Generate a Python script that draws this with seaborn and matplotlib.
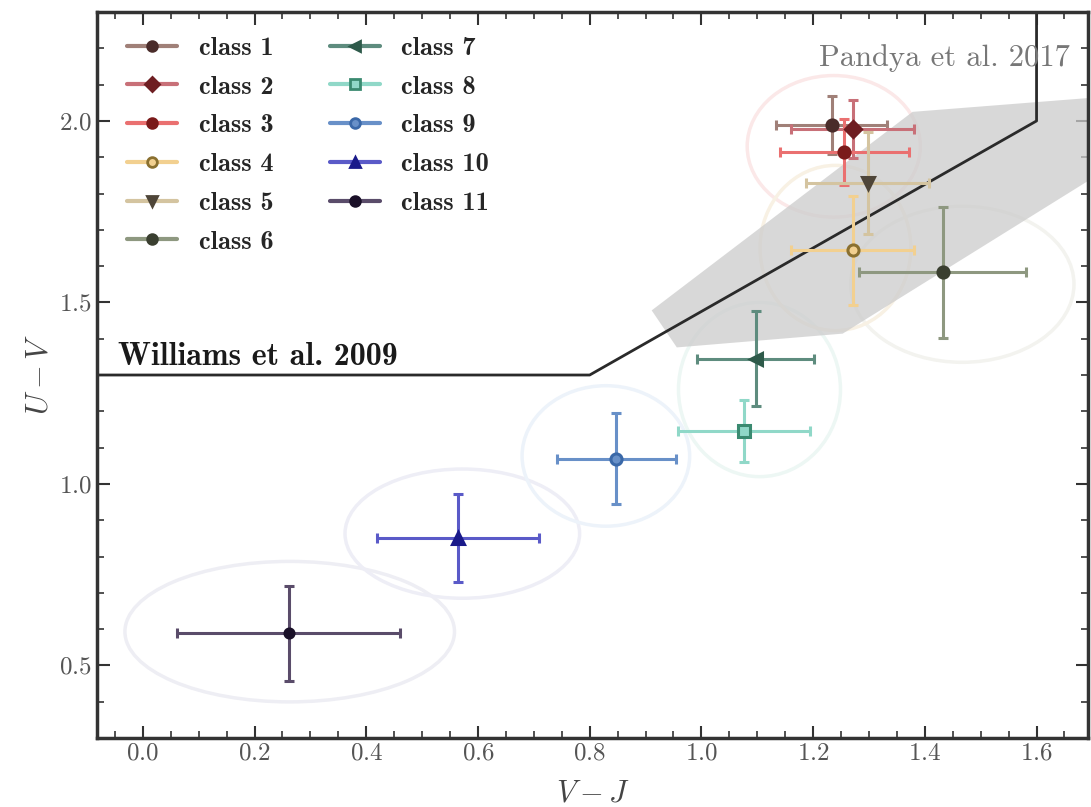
import numpy as np
import matplotlib
matplotlib.use("Agg")
import matplotlib.pyplot as plt
from matplotlib.patches import Ellipse, Polygon
from matplotlib.lines import Line2D
from matplotlib.ticker import MultipleLocator
import seaborn as sns

# ---------------- data ----------------
classes = ["class 1", "class 2", "class 3", "class 4", "class 5", "class 6",
           "class 7", "class 8", "class 9", "class 10", "class 11"]
vj = [1.233, 1.271, 1.256, 1.271, 1.298, 1.432, 1.097, 1.077, 0.848, 0.564, 0.261]
uv = [1.989, 1.978, 1.914, 1.644, 1.829, 1.583, 1.345, 1.146, 1.069, 0.851, 0.588]
vj_err = [0.10, 0.11, 0.115, 0.11, 0.11, 0.15, 0.105, 0.118, 0.107, 0.145, 0.20]
uv_err = [0.08, 0.08, 0.09, 0.15, 0.14, 0.18, 0.13, 0.085, 0.125, 0.12, 0.13]
markers = ["o", "D", "o", "o", "v", "o", "<", "s", "o", "^", "o"]
marker_colors = ["#4a2c2a", "#6e1e22", "#7a1a1a", "#8a7030", "#4e4538", "#3a3f30",
                 "#2e5a4a", "#3a8a70", "#3a68a8", "#1a1a8a", "#1a1028"]
bar_colors = ["#a08078", "#c87078", "#ea7070", "#f2d090", "#d4c4a0", "#8e9880",
              "#5e8c7e", "#90d8c8", "#6890c8", "#5a5ac8", "#5a4c6a"]

# Williams et al. 2009 quiescent boundary
will_x = [-0.2, 0.8, 1.6, 1.6]
will_y = [1.3, 1.3, 2.0, 2.4]

# Pandya et al. 2017 transition region
pand_x = [0.911, 1.378, 1.75, 1.75, 1.253, 0.956]
pand_y = [1.478, 2.025, 2.07, 1.89, 1.414, 1.376]

# faint group ellipses
ell_x = [0.263, 0.572, 0.829, 1.104, 1.237, 1.467, 1.24]
ell_y = [0.593, 0.863, 1.077, 1.26, 1.93, 1.55, 1.65]
ell_w = [0.59, 0.42, 0.30, 0.29, 0.31, 0.40, 0.27]
ell_h = [0.387, 0.356, 0.387, 0.48, 0.39, 0.43, 0.455]
ell_colors = ["#eeeef4", "#eeeef6", "#edf3fa", "#edf7f4", "#fbe8e8", "#f3f3ef", "#f8f1e4"]

# ---------------- style ----------------
sns.set_theme(style="ticks")
plt.rcParams["font.family"] = ["cmr10", "DejaVu Serif"]
plt.rcParams["mathtext.fontset"] = "cm"
plt.rcParams["axes.formatter.use_mathtext"] = True

fig = plt.figure(figsize=(10.91, 8.07), dpi=100)
ax = fig.add_axes([0.0889, 0.0855, 0.9083, 0.8996])

# ellipses
for x, y, w, h, c in zip(ell_x, ell_y, ell_w, ell_h, ell_colors):
    ax.add_patch(Ellipse((x, y), w, h, fill=False, edgecolor=c, lw=2.5, zorder=1))

# Pandya region
ax.add_patch(Polygon(np.column_stack([pand_x, pand_y]), closed=True,
                     facecolor="#cccccc", edgecolor="none", alpha=0.75, zorder=1.5))

# Williams line
sns.lineplot(x=will_x, y=will_y, sort=False, estimator=None, color="#2a2a2a",
             lw=2, ax=ax, zorder=2)

# points with error bars
handles = []
for i, name in enumerate(classes):
    mfc = marker_colors[i]
    if name in ("class 4", "class 8", "class 9"):
        mfc = bar_colors[i]
    ax.errorbar(vj[i], uv[i], xerr=vj_err[i], yerr=uv_err[i], fmt=markers[i],
                color=marker_colors[i], mfc=mfc, mec=marker_colors[i], mew=2.2,
                ms=8 if name != "class 11" else 6.5,
                ecolor=bar_colors[i], elinewidth=2.2, capsize=3.5, capthick=1.5,
                zorder=3 + i * 0.01)
    handles.append(Line2D([0], [0], color=bar_colors[i], lw=3, marker=markers[i],
                          mfc=mfc, mec=marker_colors[i], mew=2, ms=7))

ax.legend(handles, classes, loc="upper left", ncol=2, frameon=False,
          prop={"family": "cmb10", "size": 19}, handlelength=1.9,
          handletextpad=0.8, columnspacing=2.15, labelspacing=0.58,
          bbox_to_anchor=(0.012, 0.992), borderaxespad=0.3)

ax.text(-0.045, 1.31, "Williams et al. 2009", fontsize=23, family="cmb10",
        color="#1a1a1a", ha="left", va="bottom")
ax.text(0.982, 0.936, "Pandya et al. 2017", fontsize=22, color="#777777",
        ha="right", va="center", transform=ax.transAxes)

ax.set_xlim(-0.082, 1.692)
ax.set_ylim(0.3, 2.3)
ax.xaxis.set_major_locator(MultipleLocator(0.2))
ax.xaxis.set_minor_locator(MultipleLocator(0.05))
ax.yaxis.set_major_locator(MultipleLocator(0.5))
ax.yaxis.set_minor_locator(MultipleLocator(0.1))
ax.tick_params(which="both", direction="in", top=True, right=True,
               labelsize=18, labelcolor="#555555", color="#333333")
ax.tick_params(which="major", length=9, width=1.5)
ax.tick_params(which="minor", length=5, width=1.2)
for s in ax.spines.values():
    s.set_linewidth(2.5)
    s.set_color("#333333")

ax.set_xlabel("$V-J$", fontsize=22, color="#444444", labelpad=11)
ax.set_ylabel("$U-V$", fontsize=22, color="#444444", labelpad=4)

fig.savefig("out.png", dpi=100)
